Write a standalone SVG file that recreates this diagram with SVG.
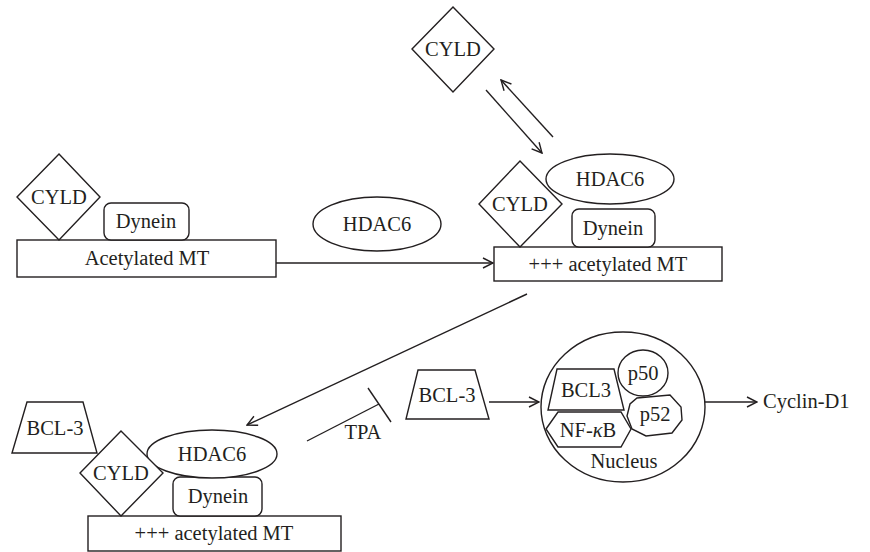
<svg xmlns="http://www.w3.org/2000/svg" width="870" height="552" viewBox="0 0 870 552">
<defs>
<marker id="arr" viewBox="0 0 12 12" refX="11" refY="6" markerWidth="12" markerHeight="12" markerUnits="userSpaceOnUse" orient="auto">
<path d="M1,1 L11,6 L1,11" fill="none" stroke="#231f20" stroke-width="1.4"/>
</marker>
<style>
.s{fill:#fff;stroke:#231f20;stroke-width:1.4}
.c{fill:none;stroke:#231f20;stroke-width:1.4}
text{font-family:"Liberation Serif","Times New Roman",serif;font-size:20.5px;fill:#231f20;text-anchor:middle}
</style>
</defs>
<rect width="870" height="552" fill="#fff"/>

<g id="connectors">
<line class="c" x1="486" y1="90" x2="542" y2="153" marker-end="url(#arr)"/>
<line class="c" x1="553" y1="137" x2="501" y2="80" marker-end="url(#arr)"/>
<line class="c" x1="276" y1="263" x2="493" y2="263" marker-end="url(#arr)"/>
<line class="c" x1="527" y1="294" x2="247" y2="425" marker-end="url(#arr)"/>
<line class="c" x1="307" y1="441" x2="379" y2="404"/>
<line class="c" x1="368" y1="388" x2="391" y2="422"/>
<line class="c" x1="489" y1="402" x2="539" y2="402" marker-end="url(#arr)"/>
<line class="c" x1="705" y1="402" x2="757" y2="402" marker-end="url(#arr)"/>
</g>

<g id="cyld-top">
<polygon class="s" points="453,7 494,49 453,92 412,49"/>
<text x="453" y="56">CYLD</text>
</g>

<g id="complex-left">
<rect class="s" x="17" y="240" width="259" height="37"/>
<text x="147" y="265">Acetylated MT</text>
<polygon class="s" points="59,154 100,197 59,240 17,197"/>
<text x="59" y="204">CYLD</text>
<rect class="s" x="104" y="203" width="85" height="37" rx="7"/>
<text x="146" y="228">Dynein</text>
</g>

<g id="hdac6-mid">
<ellipse class="s" cx="377" cy="224" rx="64" ry="27"/>
<text x="377" y="231">HDAC6</text>
</g>

<g id="complex-right">
<rect class="s" x="494" y="247" width="228" height="34"/>
<text x="608" y="271">+++ acetylated MT</text>
<rect class="s" x="572" y="209" width="83" height="38" rx="7"/>
<text x="613" y="235">Dynein</text>
<ellipse class="s" cx="610" cy="179" rx="64" ry="25"/>
<text x="610" y="186">HDAC6</text>
<polygon class="s" points="520,161 562,204 520,247 479,204"/>
<text x="520" y="211">CYLD</text>
</g>

<g id="complex-bottom">
<rect class="s" x="88" y="516" width="253" height="35"/>
<text x="214" y="540">+++ acetylated MT</text>
<polygon class="s" points="27,402 83,402 97,453 12,453"/>
<text x="55" y="435">BCL-3</text>
<rect class="s" x="173" y="477" width="89" height="39" rx="7"/>
<text x="218" y="503">Dynein</text>
<ellipse class="s" cx="212" cy="454" rx="65" ry="24"/>
<text x="212" y="461">HDAC6</text>
<polygon class="s" points="121,431 163,473 121,516 80,473"/>
<text x="121" y="480">CYLD</text>
</g>

<g id="tpa">
<text x="363" y="439">TPA</text>
</g>

<g id="bcl3-mid">
<polygon class="s" points="418,370 475,370 489,419 406,419"/>
<text x="447" y="402">BCL-3</text>
</g>

<g id="nucleus">
<ellipse class="s" cx="623" cy="407" rx="82" ry="75"/>
<text x="624" y="468">Nucleus</text>
<polygon class="s" points="557,369 614,369 624,410 548,410"/>
<text x="586" y="397">BCL3</text>
<polygon class="s" points="546,429 558,412 621,412 631,429 621,447 558,447"/>
<text x="588" y="437">NF-<tspan font-style="italic">κ</tspan>B</text>
<ellipse class="s" cx="643" cy="373" rx="25" ry="23"/>
<text x="643" y="380">p50</text>
<polygon class="s" points="637,398 670,395 681,407 682,420 672,433 646,436 632,429 627,416 630,404"/>
<text x="655" y="421">p52</text>
</g>

<g id="cyclin">
<text x="763" y="408" style="text-anchor:start">Cyclin-D1</text>
</g>
</svg>
